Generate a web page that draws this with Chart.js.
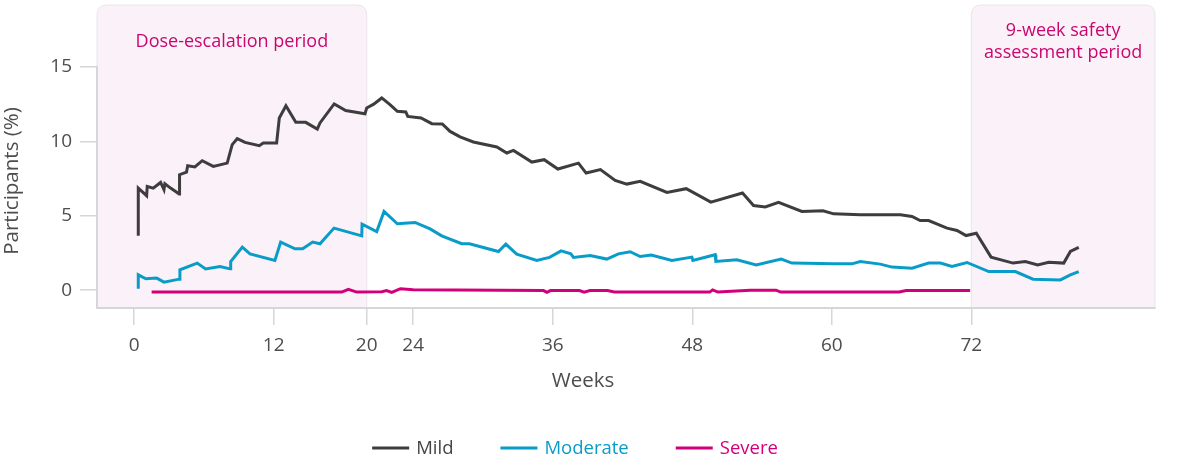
<!DOCTYPE html>
<html>
<head>
<meta charset="utf-8">
<script src="https://cdn.jsdelivr.net/npm/chart.js@4"></script>
<style>
  html, body { margin: 0; padding: 0; background: #fff; }
  #wrap { width: 1200px; height: 456px; }
</style>
</head>
<body>
<div id="wrap"><canvas id="aeChart" width="1200" height="456"></canvas></div>
<script>
// weeks on x, participants (%) on y
const xTicks = [0, 12, 20, 24, 36, 48, 60, 72];
const yTicks = [0, 5, 10, 15];
const seriesNames = ['Mild', 'Moderate', 'Severe'];

const mildWeeks = [0.35, 0.35, 1.07, 1.12, 1.64, 2.27, 2.56, 2.64, 3.13, 3.87, 3.9, 4.5, 4.6, 5.22, 5.85, 6.8, 8.0, 8.43, 8.86, 9.53,
  10.76, 11.1, 12.25, 12.48, 13.05, 13.9, 14.75, 15.75, 15.98, 17.2, 18.19, 19.85, 20.0, 20.6, 21.29, 22.0, 22.63, 23.36, 23.53, 24.67,
  25.6, 26.5, 27.17, 28.03, 29.17, 31.19, 32.05, 32.62, 34.2, 35.26, 36.44, 38.21, 38.87, 40.1, 41.37, 42.37, 43.52, 45.82, 47.48, 49.6,
  52.32, 53.27, 54.28, 55.42, 57.43, 59.24, 60.16, 62.45, 65.9, 66.9, 67.6, 68.33, 69.91, 70.77, 71.55, 72.43, 73.7, 75.59, 76.65, 77.71,
  78.66, 79.95, 80.52, 81.24];
const mildValues = [3.65, 6.86, 6.35, 6.97, 6.86, 7.24, 6.75, 7.15, 6.86, 6.46, 7.76, 7.94, 8.36, 8.28, 8.7, 8.32, 8.54, 9.78, 10.18, 9.93,
  9.71, 9.89, 9.89, 11.57, 12.4, 11.28, 11.28, 10.83, 11.24, 12.52, 12.07, 11.86, 12.25, 12.5, 12.92, 12.47, 12.02, 11.98, 11.68, 11.57,
  11.19, 11.17, 10.67, 10.3, 9.96, 9.62, 9.22, 9.39, 8.61, 8.77, 8.14, 8.54, 7.87, 8.1, 7.38, 7.13, 7.31, 6.57, 6.82, 5.92,
  6.53, 5.69, 5.59, 5.9, 5.29, 5.34, 5.13, 5.07, 5.07, 4.95, 4.68, 4.68, 4.17, 4.01, 3.67, 3.83, 2.22, 1.82, 1.93, 1.7,
  1.88, 1.82, 2.6, 2.87];

const moderateWeeks = [0.35, 0.35, 1.0, 1.93, 2.56, 3.87, 3.93, 5.42, 6.14, 7.38, 8.24, 8.3, 9.3, 9.96, 12.1, 12.6, 13.83, 14.49, 15.35, 15.98,
  17.19, 19.57, 19.6, 20.86, 21.49, 22.63, 24.16, 25.45, 26.45, 28.17, 28.83, 31.33, 31.96, 32.9, 34.63, 35.72, 36.72, 37.56, 37.78, 39.22,
  40.65, 41.65, 42.66, 43.52, 44.47, 46.25, 47.97, 48.05, 49.97, 50.03, 51.84, 53.5, 55.65, 56.57, 60.16, 61.74, 62.45, 64.17, 65.18, 66.9,
  68.33, 69.34, 70.34, 71.63, 73.5, 75.79, 77.31, 79.66, 80.52, 81.24];
const moderateValues = [0.09, 1.03, 0.76, 0.81, 0.54, 0.74, 1.37, 1.82, 1.43, 1.59, 1.43, 1.92, 2.89, 2.44, 1.99, 3.23, 2.78, 2.78, 3.23, 3.12,
  4.17, 3.65, 4.44, 3.94, 5.29, 4.46, 4.55, 4.12, 3.65, 3.12, 3.12, 2.6, 3.09, 2.42, 1.99, 2.2, 2.64, 2.44, 2.2, 2.33,
  2.09, 2.44, 2.58, 2.26, 2.36, 1.99, 2.22, 1.99, 2.38, 1.93, 2.04, 1.7, 2.09, 1.82, 1.77, 1.77, 1.93, 1.75, 1.55, 1.48,
  1.82, 1.82, 1.59, 1.86, 1.25, 1.25, 0.74, 0.69, 1.03, 1.25];

const severeWeeks = [1.5, 17.85, 18.42, 19.14, 21.3, 21.7, 22.15, 22.9, 24.0, 35.2, 35.5, 35.8, 38.3, 38.7, 39.2, 40.7, 41.3, 49.5, 49.75, 50.2,
  53.0, 55.2, 55.6, 65.8, 66.4, 71.9];
const severeValues = [-0.13, -0.13, 0.05, -0.13, -0.1, -0.03, -0.15, 0.1, 0.02, -0.03, -0.15, -0.03, -0.03, -0.13, -0.03, -0.03, -0.13, -0.13, 0.02, -0.13,
  0.0, 0.0, -0.13, -0.13, -0.03, -0.03];

const lineColors = ['#3d3d3d', '#0a9cc9', '#d1007a'];
const shadeBands = [[null, 20, 'Dose-escalation period'], [72, null, '9-week safety|assessment period']];

function toPoints(weeks, values) {
    return weeks.map((w, i) => ({ x: w, y: values[i] }));
}

const FONT = '"Open Sans", "DejaVu Sans", sans-serif';
const TEXT = '#4d4d4d';

// shaded periods, axis titles and legend
const decorPlugin = {
    id: 'decor',
    beforeDraw(chart) {
        const ctx = chart.ctx, xs = chart.scales.x, area = chart.chartArea;
        ctx.save();
        shadeBands.forEach(band => {
            const x0 = band[0] === null ? xs.left : xs.getPixelForValue(band[0]);
            const x1 = band[1] === null ? xs.right : xs.getPixelForValue(band[1]);
            const top = 5, bottom = area.bottom, r = 10;
            ctx.beginPath();
            ctx.moveTo(x0, bottom);
            ctx.lineTo(x0, top + r);
            ctx.quadraticCurveTo(x0, top, x0 + r, top);
            ctx.lineTo(x1 - r, top);
            ctx.quadraticCurveTo(x1, top, x1, top + r);
            ctx.lineTo(x1, bottom);
            ctx.closePath();
            ctx.fillStyle = '#fbf1f8';
            ctx.fill();
            ctx.strokeStyle = '#e9e6e8';
            ctx.lineWidth = 1;
            ctx.stroke();

            ctx.fillStyle = '#c8076f';
            ctx.font = '18px ' + FONT;
            ctx.textAlign = 'center';
            ctx.textBaseline = 'middle';
            const lines = band[2].split('|');
            const cx = (x0 + x1) / 2;
            if (lines.length === 1) {
                ctx.fillText(lines[0], cx, 42);
            } else {
                lines.forEach((t, i) => ctx.fillText(t, cx, 31 + i * 22));
            }
        });
        ctx.restore();
    },
    afterDraw(chart) {
        const ctx = chart.ctx;
        ctx.save();
        ctx.fillStyle = TEXT;
        ctx.font = '20.5px ' + FONT;
        ctx.textAlign = 'center';
        ctx.textBaseline = 'middle';
        ctx.fillText('Weeks', 583, 381);
        ctx.translate(12, 181);
        ctx.rotate(-Math.PI / 2);
        ctx.fillText('Participants (%)', 0, 0);
        ctx.restore();

        // legend
        ctx.save();
        ctx.font = '18.5px ' + FONT;
        ctx.textBaseline = 'middle';
        const lineLen = 37, gapText = 7, gapItem = 47, y = 448;
        const widths = chart.data.datasets.map(d => lineLen + gapText + ctx.measureText(d.label).width);
        const total = widths.reduce((a, b) => a + b, 0) + gapItem * (widths.length - 1);
        let x = 575 - total / 2;
        chart.data.datasets.forEach((d, i) => {
            ctx.strokeStyle = d.borderColor;
            ctx.lineWidth = 3;
            ctx.beginPath();
            ctx.moveTo(x, y);
            ctx.lineTo(x + lineLen, y);
            ctx.stroke();
            ctx.fillStyle = i === 0 ? '#444444' : d.borderColor;
            ctx.textAlign = 'left';
            ctx.fillText(d.label, x + lineLen + gapText, y + 1);
            x += widths[i] + gapItem;
        });
        ctx.restore();
    }
};

document.addEventListener('DOMContentLoaded', function () {
    const ctx = document.getElementById('aeChart').getContext('2d');
    const series = [
        toPoints(mildWeeks, mildValues),
        toPoints(moderateWeeks, moderateValues),
        toPoints(severeWeeks, severeValues)
    ];

    new Chart(ctx, {
        type: 'line',
        data: {
            datasets: seriesNames.map((name, i) => ({
                label: name,
                data: series[i],
                borderColor: lineColors[i],
                borderWidth: 3,
                pointRadius: 0,
                tension: 0,
                fill: false
            }))
        },
        options: {
            responsive: false,
            animation: false,
            devicePixelRatio: 1,
            layout: { padding: { top: 67, right: 45, bottom: 0, left: 0 } },
            scales: {
                x: {
                    type: 'linear',
                    min: -3.2,
                    max: 87.8,
                    afterBuildTicks: s => { s.ticks = xTicks.map(v => ({ value: v })); },
                    afterFit: s => { s.height = 148; },
                    ticks: {
                        autoSkip: false,
                        maxRotation: 0,
                        padding: 9,
                        color: TEXT,
                        font: { family: FONT, size: 19 }
                    },
                    grid: { drawOnChartArea: false, tickLength: 17, color: '#d6d6d6', lineWidth: 1.5 },
                    border: { color: '#d6d6d6', width: 2 }
                },
                y: {
                    min: -1.2,
                    max: 15,
                    afterBuildTicks: s => { s.ticks = yTicks.map(v => ({ value: v })); },
                    afterFit: s => { s.width = 97; },
                    ticks: {
                        padding: 8,
                        color: TEXT,
                        font: { family: FONT, size: 19 }
                    },
                    grid: { drawOnChartArea: false, tickLength: 17, color: '#d6d6d6', lineWidth: 1.5 },
                    border: { color: '#d6d6d6', width: 2 }
                }
            },
            plugins: {
                legend: { display: false },
                tooltip: { enabled: false }
            }
        },
        plugins: [decorPlugin]
    });
});
</script>
</body>
</html>
